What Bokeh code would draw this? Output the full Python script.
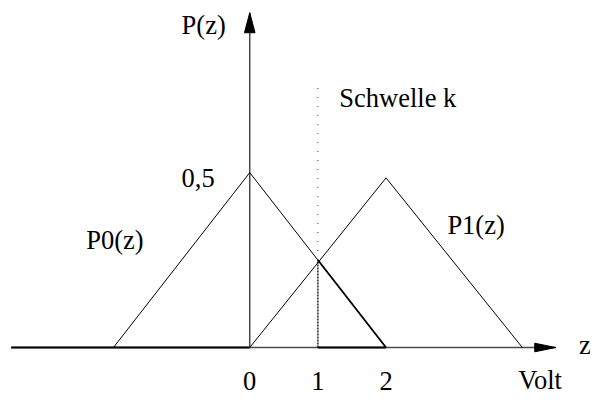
from bokeh.plotting import figure
from bokeh.models import Range1d, ColumnDataSource
from bokeh.core.properties import value
from bokeh.embed import file_html
from bokeh.resources import INLINE

# ---- data ----
p0_x = [-2, 0, 2]
p0_y = [0, 0.5, 0]
p1_x = [0, 2, 4]
p1_y = [0, 0.485, 0]
threshold = 1
x_ticks = [0, 1, 2]
x_tick_labels = ["0", "1", "2"]
y_tick = 0.5
y_tick_label = "0,5"
x_axis_extent = [-3.5, 4.49]
y_axis_extent = [0, 0.957]
dotted_top = 0.764

# ---- layout ----
W, H = 590, 396
X_START, X_END = -3.657, 5.0
Y_START, Y_END = -0.140, 0.992
PX_X = W / (X_END - X_START)   # px per volt
PX_Y = H / (Y_END - Y_START)   # px per unit of P
TEXT_DY = 8 / PX_Y             # compensate baseline placement of the text glyph

p = figure(width=W, height=H, output_backend="svg", toolbar_location=None,
           x_range=Range1d(X_START, X_END), y_range=Range1d(Y_START, Y_END),
           min_border=0, outline_line_color=None)
p.axis.visible = False
p.grid.visible = False
p.background_fill_color = "white"
p.border_fill_color = "white"

FONT = value("Liberation Serif")
FS = "26.5px"

# axes
p.line(x_axis_extent, [0, 0], line_color="#4a4a4a", line_width=1.5)
p.line([x_axis_extent[0], 0], [0, 0], line_color="black", line_width=2)
p.line([0, 0], y_axis_extent, line_color="#4a4a4a", line_width=1.5)

# arrow heads (sizes in px converted to data units)
hl, hw = 21 / PX_X, 4.3 / PX_Y
xe = x_axis_extent[1]
p.patch([xe, xe - hl, xe - hl], [0, hw, -hw], fill_color="black", line_color="black", line_width=1)
vl, vw = 20 / PX_Y, 5.3 / PX_X
ye = y_axis_extent[1]
p.patch([0, vw, -vw], [ye, ye - vl, ye - vl], fill_color="black", line_color="black", line_width=1)

# distributions
p.line(p0_x, p0_y, line_color="black", line_width=1)
p.line(p1_x, p1_y, line_color="black", line_width=1)

# error region (P0 beyond threshold)
p0_at_k = p0_y[1] + (p0_y[2] - p0_y[1]) * (threshold - p0_x[1]) / (p0_x[2] - p0_x[1])
p.line([threshold, p0_x[2]], [p0_at_k, 0], line_color="black", line_width=1.8)
p.line([threshold, p0_x[2]], [0, 0], line_color="black", line_width=2)
p.line([threshold, threshold], [0, p0_at_k], line_color="black", line_width=1.3, line_dash="2 1")
p.line([threshold, threshold], [p0_at_k, dotted_top], line_color="#333333", line_width=1, line_dash="1 8")

# labels
lab_y = [0.9, 0.4615, 0.69, 0.2857, 0.327, -0.1154, -0.017]
lab = ColumnDataSource(dict(
    x=[-1.0, -1.0, 1.314, -2.4, 2.9, 3.94, 4.83],
    y=[v + TEXT_DY for v in lab_y],
    t=["P(z)", y_tick_label, "Schwelle k", "P0(z)", "P1(z)", "Volt", "z"],
))
p.text(x="x", y="y", text="t", source=lab, text_font=FONT, text_font_size=FS,
       text_align="left", text_baseline="alphabetic", text_color="black")

ticks = ColumnDataSource(dict(x=x_ticks, y=[-0.119 + TEXT_DY] * len(x_ticks), t=x_tick_labels))
p.text(x="x", y="y", text="t", source=ticks, text_font=FONT, text_font_size=FS,
       text_align="center", text_baseline="alphabetic", text_color="black")

open("out.html", "w").write(file_html(p, INLINE))
